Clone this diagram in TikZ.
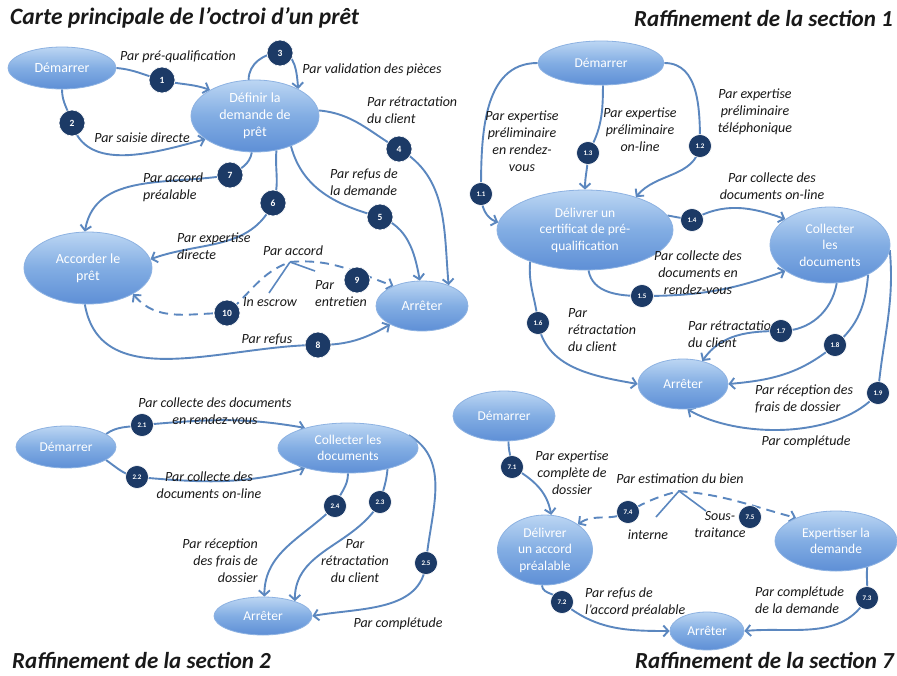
\documentclass[tikz,border=0pt]{standalone}
\usepackage{fontspec}
\setmainfont{Carlito}
\usetikzlibrary{shapes.geometric,arrows.meta}
\pgfdeclarelayer{bgl}
\pgfdeclarelayer{edges}
\pgfsetlayers{bgl,edges,main}
\definecolor{elTop}{HTML}{BCD6F3}
\definecolor{elMid}{HTML}{82ADE3}
\definecolor{elBot}{HTML}{5E8FD6}
\definecolor{elLine}{HTML}{8DB2E2}
\definecolor{navyc}{HTML}{1C3A66}
\definecolor{connc}{HTML}{5B87BF}
\newcommand\mylabfont{\fontsize{14}{17}\selectfont\itshape}
\newcommand\myelbigfont{\fontsize{14}{17}\selectfont}
\newcommand\myelfont{\fontsize{13.5}{16.5}\selectfont}
\newcommand\mynumbigfont{\fontsize{9.5}{10}\selectfont\bfseries}
\newcommand\mynumfont{\fontsize{7}{8}\selectfont\bfseries}
\newcommand\mytitlefont{\fontsize{23.5}{26}\selectfont\bfseries\itshape}
\newcommand\mysectitlefont{\fontsize{23}{26}\selectfont\bfseries\itshape}
\tikzset{
 elnode/.style={ellipse, draw=elLine, line width=0.8pt, top color=elTop, bottom color=elBot, middle color=elMid, text=white, align=center, inner sep=0pt, font=\myelfont},
 bigel/.style={elnode, font=\myelbigfont},
 numnode/.style={circle, fill=navyc, draw=white, line width=0.6pt, text=white, inner sep=0pt, minimum size=23pt, font=\mynumfont},
 bignum/.style={numnode, minimum size=26pt, font=\mynumbigfont},
 lab/.style={font=\mylabfont, align=center, inner sep=0pt, text=black!90},
 labl/.style={lab, align=left, anchor=west},
 labr/.style={lab, align=right, anchor=east},
 link/.style={draw=connc, line width=1.9pt},
 arr/.style={link, -{Straight Barb[length=5pt,width=11pt]}},
 darr/.style={link, dash pattern=on 9pt off 6pt, {Straight Barb[length=5pt,width=11pt]}-{Straight Barb[length=5pt,width=11pt]}},
 branch/.style={draw=connc, line width=1.6pt},
 ttl/.style={font=\mytitlefont, inner sep=0pt, text=black!90},
 secttl/.style={ttl, font=\mysectitlefont},
}
\begin{document}
\begin{tikzpicture}[x=1pt,y=-1pt]
\begin{pgfonlayer}{bgl}
\fill[white] (0,0) rectangle (897,675);
\end{pgfonlayer}
\useasboundingbox (0,0) rectangle (897,675);

% ================= MAIN MAP =================
\node[ttl, anchor=west] (t0) at (10,18) {Carte principale de l’octroi d’un prêt};
\node[bigel, minimum width=108pt, minimum height=42pt] (mdem) at (62,68) {Démarrer};
\node[bigel, minimum width=128pt, minimum height=72pt] (mdef) at (255,116) {Définir la\\demande de\\prêt};
\node[bigel, minimum width=128pt, minimum height=72pt] (macc) at (88,268) {Accorder le\\prêt};
\node[bigel, minimum width=92pt, minimum height=50pt] (marr) at (422,306) {Arrêter};

\node[lab] (lm1) at (178,57) {Par pré-qualification};
\node[lab] (lm3) at (372,70) {Par validation des pièces};
\node[labl] (lm4) at (367,110) {Par rétractation\\du client};
\node[lab] (lm2) at (142,138) {Par saisie directe};
\node[labl] (lm7) at (143,187) {Par accord\\préalable};
\node[labl] (lm5) at (330,182) {Par refus de\\la demande};
\node[labl] (lm6) at (177,246) {Par expertise\\directe};
\node[lab] (lmacc) at (293,251) {Par accord};
\node[lab] (lmesc) at (270,302) {In escrow};
\node[labl] (lment) at (315,294) {Par\\entretien};
\node[lab] (lm8) at (267,340) {Par refus};

\node[bignum] (m1) at (162,80) {1};
\node[bignum] (m2) at (72,123) {2};
\node[bignum] (m3) at (280,53) {3};
\node[bignum] (m4) at (399,149) {4};
\node[bignum] (m5) at (380,217) {5};
\node[bignum] (m6) at (273,203) {6};
\node[bignum] (m7) at (230,175) {7};
\node[bignum] (m8) at (318,345) {8};
\node[bignum] (m9) at (357,280) {9};
\node[bignum] (m10) at (227,313) {10};

\coordinate (mpk) at (290,262);
\coordinate (mesc) at (269,293);
\coordinate (ment) at (315,271);

% ================= SECTION 1 =================
\node[secttl, anchor=east] (t1) at (893,18) {Raffinement de la section 1};
\node[elnode, minimum width=126pt, minimum height=44pt] (s1dem) at (601,63) {Démarrer};
\node[elnode, minimum width=176pt, minimum height=80pt] (s1del) at (585,230) {Délivrer un\\certificat de pré-\\qualification};
\node[elnode, minimum width=120pt, minimum height=76pt] (s1col) at (830,245) {Collecter\\les\\documents};
\node[elnode, minimum width=90pt, minimum height=50pt] (s1arr) at (683,384) {Arrêter};

\node[lab] (l11) at (522,141) {Par expertise\\préliminaire\\en rendez-\\vous};
\node[lab] (l13) at (640,130) {Par expertise\\préliminaire\\on-line};
\node[lab] (l12) at (755,112) {Par expertise\\préliminaire\\téléphonique};
\node[lab] (l14) at (772,186) {Par collecte des\\documents on-line};
\node[lab] (l15) at (698,273) {Par collecte des\\documents en\\rendez-vous};
\node[labl] (l16) at (568,330) {Par\\rétractation\\du client};
\node[labl] (l17) at (688,334) {Par rétractation\\du client};
\node[labl] (l18) at (755,399) {Par réception des\\frais de dossier};
\node[lab] (l19) at (806,442) {Par complétude};

\node[numnode] (c11) at (481,194) {1.1};
\node[numnode] (c13) at (588,153) {1.3};
\node[numnode] (c12) at (700,146) {1.2};
\node[numnode] (c14) at (692,220) {1.4};
\node[numnode] (c15) at (642,296) {1.5};
\node[numnode] (c16) at (538,323) {1.6};
\node[numnode] (c17) at (781,331) {1.7};
\node[numnode] (c18) at (835,345) {1.8};
\node[numnode] (c19) at (878,393) {1.9};

% ================= SECTION 2 =================
\node[secttl, anchor=west] (t2) at (12,660) {Raffinement de la section 2};
\node[elnode, minimum width=100pt, minimum height=42pt] (s2dem) at (66,447) {Démarrer};
\node[elnode, minimum width=140pt, minimum height=50pt] (s2col) at (348,448) {Collecter les\\documents};
\node[elnode, minimum width=98pt, minimum height=38pt] (s2arr) at (263,616) {Arrêter};

\node[lab] (l21) at (215,411) {Par collecte des documents\\en rendez-vous};
\node[lab] (l22) at (209,485) {Par collecte des\\documents on-line};
\node[labr] (l24) at (258,561) {Par réception\\des frais de\\dossier};
\node[lab] (l23) at (355,561) {Par\\rétractation\\du client};
\node[lab] (l25) at (398,624) {Par complétude};

\node[numnode] (c21) at (142,425) {2.1};
\node[numnode] (c22) at (137,477) {2.2};
\node[numnode] (c24) at (335,506) {2.4};
\node[numnode] (c23) at (380,502) {2.3};
\node[numnode] (c25) at (426,563) {2.5};

% ================= SECTION 7 =================
\node[secttl, anchor=east] (t7) at (894,660) {Raffinement de la section 7};
\node[elnode, minimum width=102pt, minimum height=50pt] (s7dem) at (504,416) {Démarrer};
\node[elnode, minimum width=95pt, minimum height=70pt] (s7del) at (545,550) {Délivrer\\un accord\\préalable};
\node[elnode, minimum width=122pt, minimum height=60pt] (s7exp) at (836,541) {Expertiser la\\demande};
\node[elnode, minimum width=74pt, minimum height=38pt] (s7arr) at (707,631) {Arrêter};

\node[lab] (l71) at (572,473) {Par expertise\\complète de\\dossier};
\node[lab] (l7b) at (680,479) {Par estimation du bien};
\node[lab] (l74) at (648,535) {interne};
\node[lab] (l75) at (720,525) {Sous-\\traitance};
\node[labl] (l72) at (585,602) {Par refus de\\l’accord préalable};
\node[labl] (l73) at (755,600) {Par complétude\\de la demande};

\node[numnode] (c71) at (512,467) {7.1};
\node[numnode] (c74) at (628,512) {7.4};
\node[numnode] (c75) at (750,517) {7.5};
\node[numnode] (c72) at (562,602) {7.2};
\node[numnode] (c73) at (867,598) {7.3};

\coordinate (pk7) at (679,491);
\coordinate (p7int) at (656,517);
\coordinate (p7sous) at (706,511);

% ================= CONNECTORS =================
\begin{pgfonlayer}{edges}
% main
\draw[arr] (mdem.east) to[out=-5,in=165] (m1.center) to[out=-15,in=160] (mdef.150);
\draw[arr] (mdem.south) to[out=-90,in=105] (m2.center) to[out=-75,in=195] (mdef.205);
\draw[arr] (mdef.100) to[out=90,in=180] (m3.center) to[out=0,in=95] (mdef.32);
\draw[arr] (mdef.5) to[out=-5,in=150] (m4.center) to[out=-30,in=95] (marr.38);
\draw[arr] (mdef.-40) to[out=-75,in=165] (m5.center) to[out=-20,in=100] (marr.95);
\draw[arr] (mdef.-58) to[out=-95,in=70] (m6.center) to[out=-115,in=20] (macc.8);
\draw[arr] (mdef.-95) to[out=-100,in=30] (m7.center) to[out=-170,in=80] (macc.95);
\draw[arr] (macc.-95) to[out=-80,in=180] (m8.center) to[out=0,in=210] (marr.210);
\draw[darr] (macc.-30) to[out=-50,in=180] (m10.center) to[out=40,in=200] (mpk) to[out=5,in=160] (marr.145);
\draw[branch] (mpk) -- (mesc);
\draw[branch] (mpk) -- (ment);
% section 1
\draw[arr] (s1dem.west) to[out=180,in=90] (c11.center) to[out=-90,in=160] (s1del.175);
\draw[arr] (s1dem.-85) to[out=-90,in=60] (c13.center) to[out=-90,in=90] (s1del.north);
\draw[arr] (s1dem.east) to[out=0,in=90] (c12.center) to[out=-100,in=50] (s1del.33);
\draw[arr] (s1del.10) -- (c14.center) to[out=30,in=160] (s1col.150);
\draw[arr] (s1del.-85) to[out=-80,in=180] (c15.center) to[out=0,in=200] (s1col.210);
\draw[arr] (s1del.-150) to[out=-95,in=95] (c16.center) to[out=-80,in=170] (s1arr.west);
\draw[arr] (s1col.-80) to[out=-100,in=0] (c17.center) to[out=180,in=55] (s1arr.50);
\draw[arr] (s1col.-38) to[out=-95,in=40] (c18.center) to[out=-140,in=5] (s1arr.east);
\draw[arr] (s1col.-5) to[out=-85,in=85] (c19.center) to[out=-130,in=-30,looseness=0.8] (s1arr.-80);
% section 2
\draw[arr] (s2dem.18) to[out=35,in=190] (c21.center) to[out=5,in=170] (s2col.155);
\draw[arr] (s2dem.-18) to[out=-35,in=170] (c22.center) to[out=-5,in=195] (s2col.205);
\draw[arr] (s2col.-90) to[out=-90,in=70] (c24.center) to[out=-135,in=90] (s2arr.86);
\draw[arr] (s2col.-28) to[out=-95,in=75] (c23.center) to[out=-120,in=90] (s2arr.25);
\draw[arr] (s2col.12) to[out=-30,in=85] (c25.center) to[out=-95,in=10] (s2arr.east);
% section 7
\draw[arr] (s7dem.-80) to[out=-90,in=95] (c71.center) to[out=-30,in=100] (s7del.80);
\draw[darr] (s7del.38) to[out=35,in=210] (c74.center) to[out=30,in=195] (pk7) to[out=-5,in=165] (s7exp.150);
\draw[branch] (pk7) -- (p7int);
\draw[branch] (pk7) -- (p7sous);
\draw[arr] (s7del.-95) to[out=-85,in=110] (c72.center) to[out=-40,in=180] (s7arr.west);
\draw[arr] (s7exp.-40) to[out=-95,in=85] (c73.center) to[out=-120,in=5] (s7arr.east);
\end{pgfonlayer}
\end{tikzpicture}
\end{document}
